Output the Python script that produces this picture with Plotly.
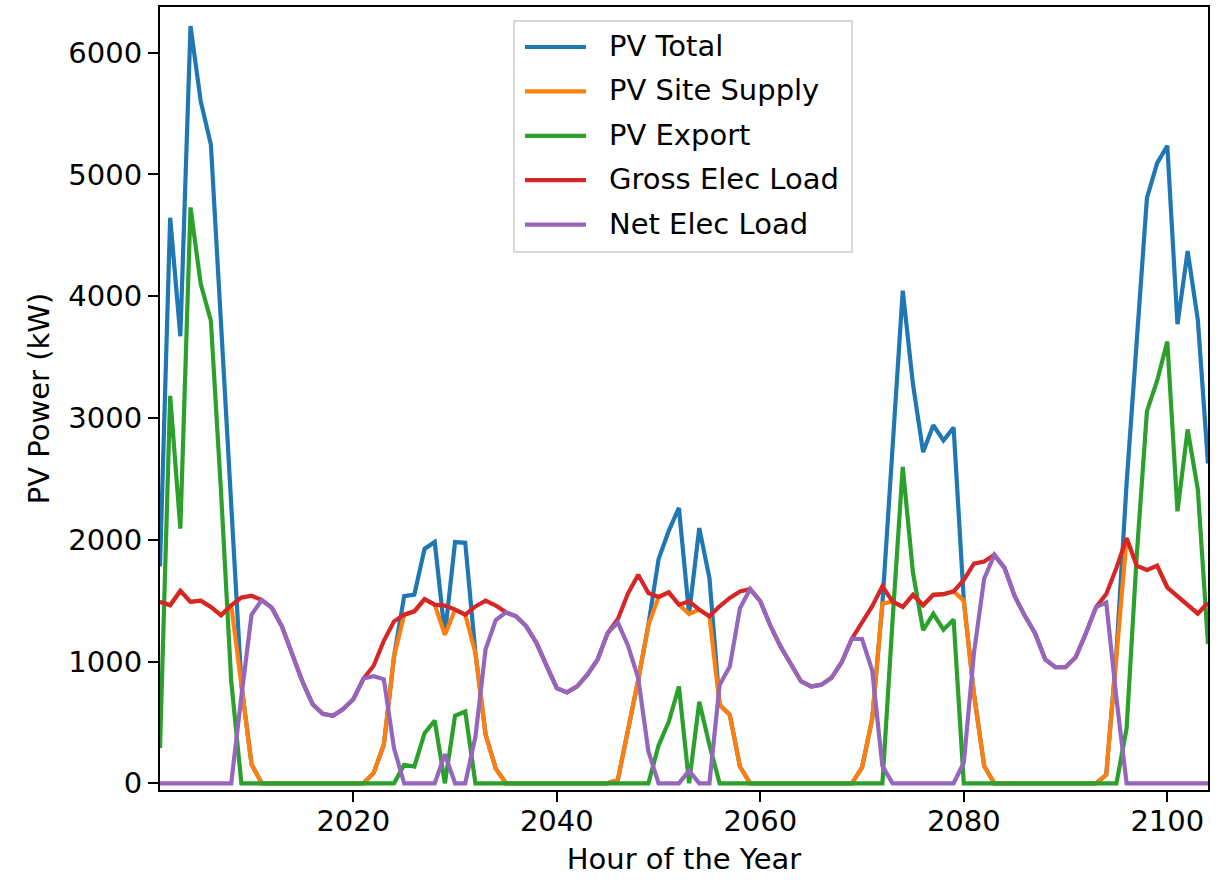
import plotly.graph_objects as go

# Hourly PV and electric load profile, hours 2001-2104 of the year (kW)
hours = list(range(2001, 2105))

pv_total = [
    1780, 4644, 3671, 6219, 5602, 5246, 3770, 2300, 810, 155,      # 2001-2010
    0, 0, 0, 0, 0, 0, 0, 0, 0, 0,                                  # 2011-2020
    0, 85, 316, 1042, 1537, 1550, 1925, 1982, 1220, 1981,          # 2021-2030
    1975, 1070, 400, 120, 0, 0, 0, 0, 0, 0,                        # 2031-2040
    0, 0, 0, 0, 0, 30, 430, 850, 1300, 1840,                       # 2041-2050
    2073, 2262, 1390, 2096, 1686, 645, 563, 138, 0, 0,             # 2051-2060
    0, 0, 0, 0, 0, 0, 0, 0, 0, 130,                                # 2061-2070
    530, 1477, 2830, 4046, 3280, 2720, 2940, 2815, 2921, 1500,     # 2071-2080
    732, 142, 0, 0, 0, 0, 0, 0, 0, 0,                              # 2081-2090
    0, 0, 0, 70, 1071, 2462, 3663, 4807, 5093, 5236,               # 2091-2100
    3770, 4371, 3805, 2626,                                        # 2101-2104
]

pv_site_supply = [
    1490, 1462, 1580, 1490, 1500, 1448, 1380, 1462, 810, 155,
    0, 0, 0, 0, 0, 0, 0, 0, 0, 0,
    0, 85, 316, 1042, 1385, 1412, 1513, 1467, 1220, 1426,
    1385, 1070, 400, 120, 0, 0, 0, 0, 0, 0,
    0, 0, 0, 0, 0, 30, 430, 850, 1300, 1530,
    1568, 1467, 1390, 1426, 1371, 645, 563, 138, 0, 0,
    0, 0, 0, 0, 0, 0, 0, 0, 0, 130,
    530, 1477, 1491, 1448, 1548, 1463, 1548, 1553, 1576, 1500,
    732, 142, 0, 0, 0, 0, 0, 0, 0, 0,
    0, 0, 0, 70, 1071, 2012, 1787, 1751, 1787, 1608,
    1536, 1465, 1393, 1483,
]

pv_export = [
    290, 3182, 2091, 4729, 4102, 3798, 2390, 838, 0, 0,
    0, 0, 0, 0, 0, 0, 0, 0, 0, 0,
    0, 0, 0, 0, 152, 138, 412, 515, 0, 555,
    590, 0, 0, 0, 0, 0, 0, 0, 0, 0,
    0, 0, 0, 0, 0, 0, 0, 0, 0, 310,
    505, 795, 0, 670, 315, 0, 0, 0, 0, 0,
    0, 0, 0, 0, 0, 0, 0, 0, 0, 0,
    0, 0, 1339, 2598, 1732, 1257, 1392, 1262, 1345, 0,
    0, 0, 0, 0, 0, 0, 0, 0, 0, 0,
    0, 0, 0, 0, 0, 450, 1876, 3056, 3306, 3628,
    2234, 2906, 2412, 1143,
]

gross_elec_load = [
    1490, 1462, 1580, 1490, 1500, 1448, 1380, 1462, 1525, 1540,
    1505, 1440, 1285, 1050, 835, 650, 570, 555, 610, 690,
    860, 965, 1170, 1330, 1385, 1412, 1513, 1467, 1459, 1426,
    1385, 1453, 1500, 1460, 1404, 1371, 1289, 1152, 960, 782,
    747, 796, 892, 1015, 1234, 1350, 1560, 1713, 1563, 1530,
    1568, 1467, 1494, 1426, 1371, 1453, 1522, 1576, 1595, 1495,
    1292, 1122, 980, 838, 795, 810, 866, 994, 1188, 1315,
    1455, 1618, 1491, 1448, 1548, 1463, 1548, 1553, 1576, 1670,
    1804, 1822, 1876, 1769, 1536, 1375, 1232, 1018, 953, 953,
    1036, 1232, 1447, 1554, 1769, 2012, 1787, 1751, 1787, 1608,
    1536, 1465, 1393, 1483,
]

net_elec_load = [
    0, 0, 0, 0, 0, 0, 0, 0, 715, 1385,
    1505, 1440, 1285, 1050, 835, 650, 570, 555, 610, 690,
    860, 880, 854, 288, 0, 0, 0, 0, 239, 0,
    0, 383, 1100, 1340, 1404, 1371, 1289, 1152, 960, 782,
    747, 796, 892, 1015, 1234, 1320, 1130, 863, 263, 0,
    0, 0, 104, 0, 0, 808, 959, 1438, 1595, 1495,
    1292, 1122, 980, 838, 795, 810, 866, 994, 1188, 1185,
    925, 141, 0, 0, 0, 0, 0, 0, 0, 170,
    1072, 1680, 1876, 1769, 1536, 1375, 1232, 1018, 953, 953,
    1036, 1232, 1447, 1484, 698, 0, 0, 0, 0, 0,
    0, 0, 0, 0,
]

series_names = ["PV Total", "PV Site Supply", "PV Export", "Gross Elec Load", "Net Elec Load"]
series_values = [pv_total, pv_site_supply, pv_export, gross_elec_load, net_elec_load]
series_colors = ["#1f77b4", "#ff7f0e", "#2ca02c", "#d62728", "#9467bd"]

x_ticks = [2020, 2040, 2060, 2080, 2100]
y_ticks = [0, 1000, 2000, 3000, 4000, 5000, 6000]

FONT = "DejaVu Sans"
FS = 29
LW = 4.2

W, H = 1222, 880
ML, MR, MT, MB = 160, 14, 7, 90
PW, PH = W - ML - MR, H - MT - MB


def px_to_paper(px, py):
    """Convert page pixel position to paper coordinates of the plot area."""
    return (px - ML) / PW, (H - MB - py) / PH


fig = go.Figure()
for name, values, color in zip(series_names, series_values, series_colors):
    fig.add_trace(go.Scatter(
        x=hours, y=values, name=name, mode="lines",
        line=dict(color=color, width=LW),
        showlegend=False,
    ))

# Legend box in the upper middle of the axes
shapes = []
annotations = []
bx0, by0 = px_to_paper(514, 252)
bx1, by1 = px_to_paper(852, 21)
shapes.append(dict(
    type="rect", xref="paper", yref="paper", x0=bx0, y0=by0, x1=bx1, y1=by1,
    fillcolor="rgba(255,255,255,0.8)", line=dict(color="#cccccc", width=1.5),
    layer="above",
))
row_top, row_step = 47, 44.4
for i, (name, color) in enumerate(zip(series_names, series_colors)):
    ry = row_top + i * row_step
    lx0, ly = px_to_paper(525, ry)
    lx1, _ = px_to_paper(586, ry)
    tx, ty = px_to_paper(607, ry - 1)
    shapes.append(dict(
        type="line", xref="paper", yref="paper", x0=lx0, x1=lx1, y0=ly, y1=ly,
        line=dict(color=color, width=LW), layer="above",
    ))
    annotations.append(dict(
        text=name, xref="paper", yref="paper", x=tx, y=ty,
        xanchor="left", yanchor="middle", showarrow=False,
        font=dict(family=FONT, size=FS, color="black"),
    ))

axis_common = dict(
    showgrid=False, zeroline=False,
    showline=True, linecolor="black", linewidth=2.2, mirror=True,
    ticks="outside", ticklen=10, tickwidth=2.2, tickcolor="black",
    tickfont=dict(family=FONT, size=FS, color="black"),
    automargin=False,
)

fig.update_layout(
    width=W, height=H,
    margin=dict(l=ML, r=MR, t=MT, b=MB),
    paper_bgcolor="white", plot_bgcolor="white",
    font=dict(family=FONT, size=FS, color="black"),
    xaxis=dict(
        range=[2001, 2104],
        tickvals=x_ticks, ticktext=[str(v) for v in x_ticks],
        ticklabelstandoff=-6,
        title=dict(text="Hour of the Year", font=dict(family=FONT, size=FS), standoff=12),
        **axis_common,
    ),
    yaxis=dict(
        range=[-55, 6375],
        tickvals=y_ticks, ticktext=[str(v) for v in y_ticks],
        title=dict(text="PV Power (kW)", font=dict(family=FONT, size=FS), standoff=10),
        **axis_common,
    ),
    shapes=shapes,
    annotations=annotations,
    showlegend=False,
)

fig.write_html("out.html")
